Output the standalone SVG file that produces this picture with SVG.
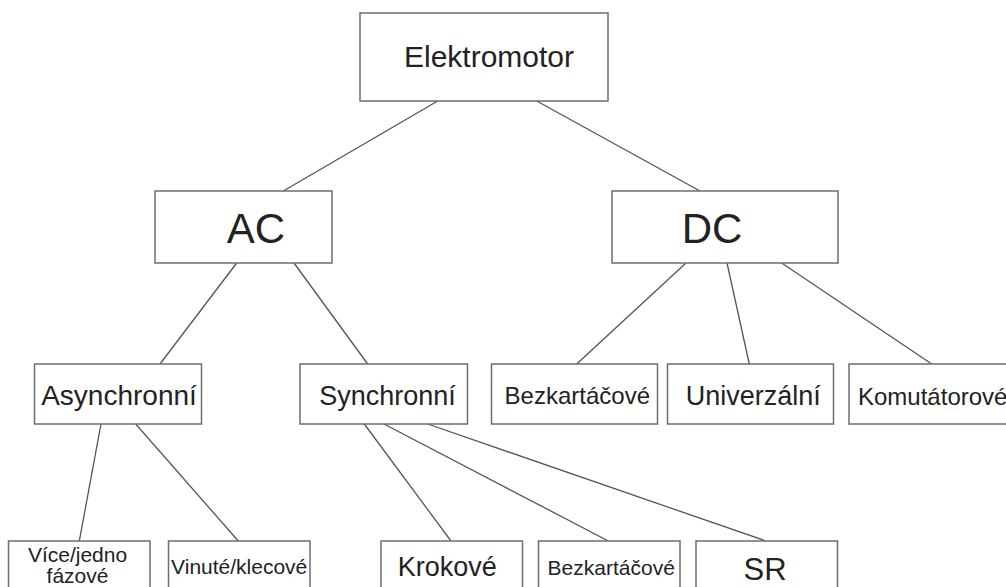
<svg xmlns="http://www.w3.org/2000/svg" width="1006" height="587" viewBox="0 0 1006 587">
<style>
.box{fill:#fff;stroke:#6e6e6e;stroke-width:1.5}
.t{font-family:"Liberation Sans",Arial,sans-serif;fill:#222;text-anchor:middle}
#connectors line{stroke:#555;stroke-width:1.3}
</style>
<rect width="1006" height="587" fill="#fff"/>
<g id="connectors">
<line x1="437.7" y1="101" x2="283.3" y2="191"/>
<line x1="536.7" y1="101" x2="700" y2="191"/>
<line x1="236.7" y1="263" x2="160" y2="364"/>
<line x1="294" y1="263" x2="367.7" y2="364"/>
<line x1="686" y1="263" x2="576.7" y2="364"/>
<line x1="727" y1="263" x2="749.3" y2="364"/>
<line x1="781.7" y1="263" x2="931.7" y2="364"/>
<line x1="101" y1="424" x2="79.3" y2="541"/>
<line x1="135.7" y1="424" x2="238.3" y2="541"/>
<line x1="364.3" y1="424" x2="451" y2="541"/>
<line x1="384" y1="424" x2="608.3" y2="541"/>
<line x1="427.7" y1="424" x2="766" y2="541"/>
</g>
<g id="elektromotor"><rect class="box" x="360" y="13" width="248" height="88"/><text class="t" x="489" y="67" font-size="30">Elektromotor</text></g>
<g id="ac"><rect class="box" x="155" y="191" width="177" height="72"/><text class="t" x="256" y="243" font-size="42">AC</text></g>
<g id="dc"><rect class="box" x="612" y="191" width="226" height="72"/><text class="t" x="712" y="243" font-size="42">DC</text></g>
<g id="asynchronni"><rect class="box" x="34.5" y="364" width="167" height="60"/><text class="t" x="119" y="405" font-size="28">Asynchronní</text></g>
<g id="synchronni"><rect class="box" x="300" y="364" width="167.5" height="60"/><text class="t" x="387.5" y="405" font-size="27">Synchronní</text></g>
<g id="dc-bezkartacove"><rect class="box" x="491.5" y="364" width="166" height="60"/><text class="t" x="577.3" y="404" font-size="24">Bezkartáčové</text></g>
<g id="univerzalni"><rect class="box" x="667.5" y="364" width="166" height="60"/><text class="t" x="753.3" y="405" font-size="27">Univerzální</text></g>
<g id="komutatorove"><rect class="box" x="849" y="364" width="170" height="60"/><text class="t" x="858" y="405" font-size="24" text-anchor="start" style="text-anchor:start">Komutátorové</text></g>
<g id="vice-jedno"><rect class="box" x="8.5" y="541" width="141.5" height="60"/><text class="t" x="77.5" y="562" font-size="21">Více/jedno</text><text class="t" x="77.5" y="583" font-size="21">fázové</text></g>
<g id="vinute-klecove"><rect class="box" x="168.5" y="541" width="141.5" height="60"/><text class="t" x="239.2" y="574" font-size="21">Vinuté/klecové</text></g>
<g id="krokove"><rect class="box" x="381" y="541" width="141.5" height="60"/><text class="t" x="447.2" y="576" font-size="27">Krokové</text></g>
<g id="sync-bezkartacove"><rect class="box" x="538.5" y="541" width="141.5" height="60"/><text class="t" x="611.2" y="575" font-size="21">Bezkartáčové</text></g>
<g id="sr"><rect class="box" x="696" y="541" width="141.5" height="60"/><text class="t" x="765" y="580" font-size="31">SR</text></g>
</svg>
